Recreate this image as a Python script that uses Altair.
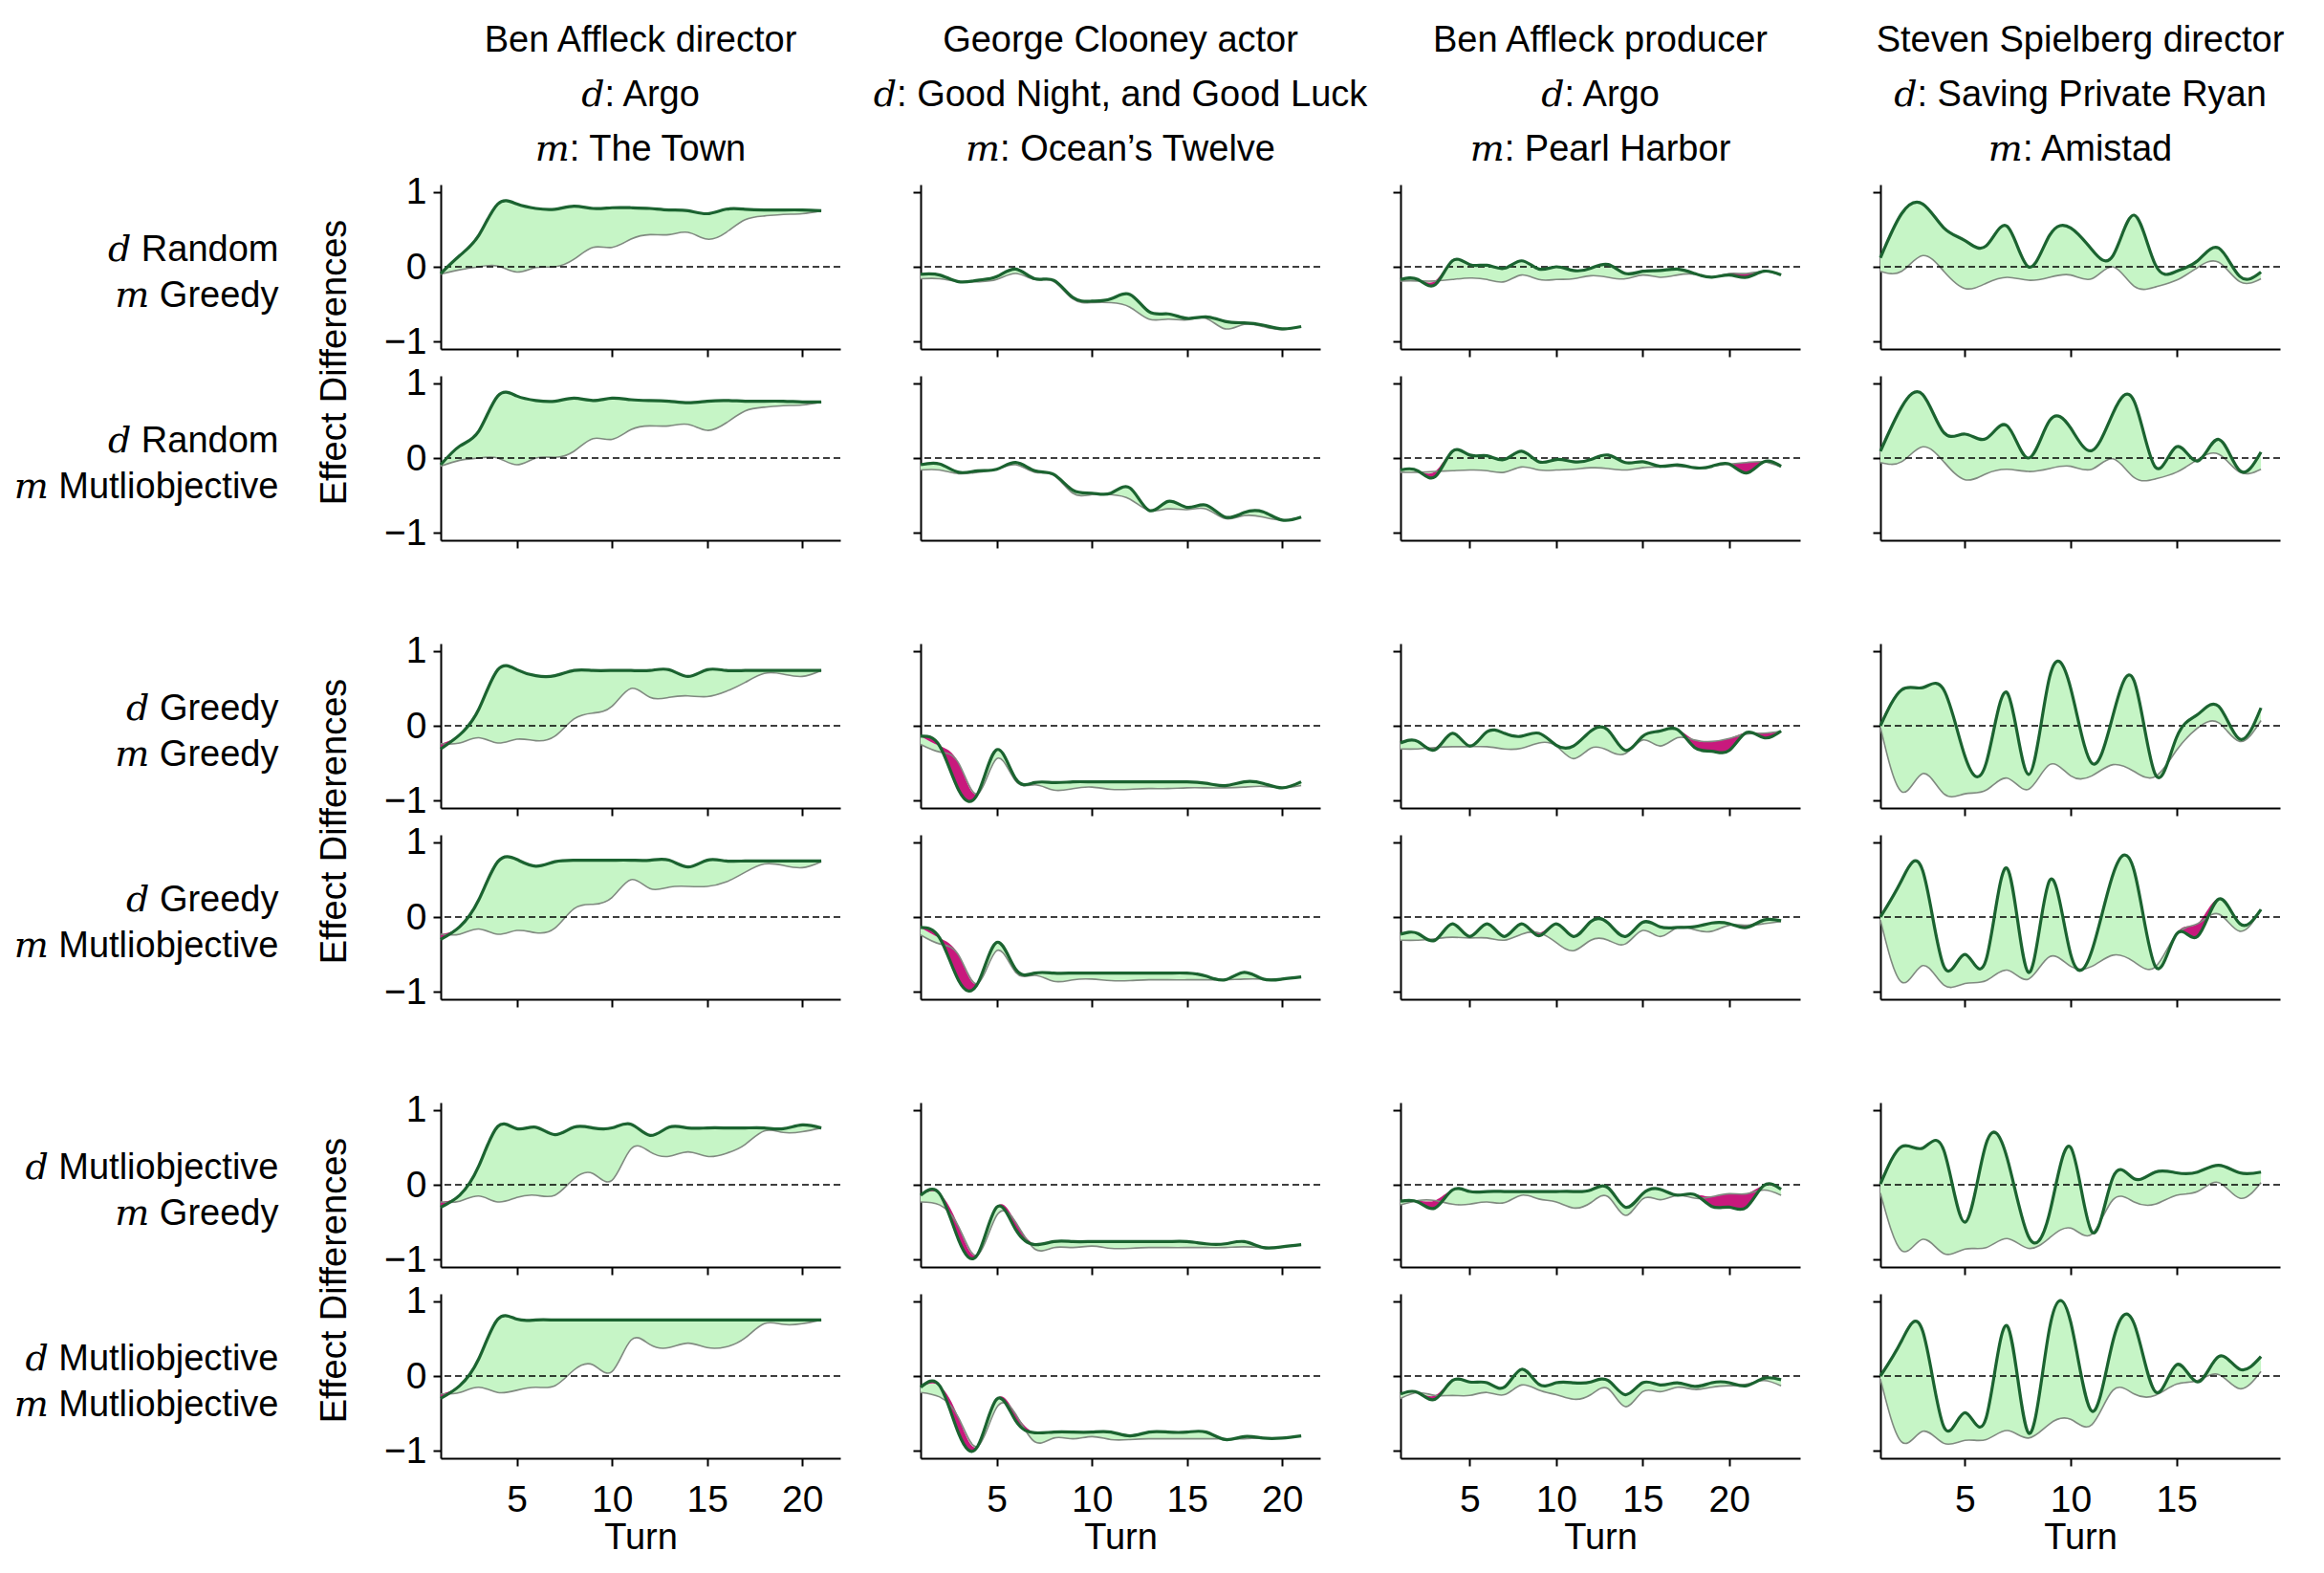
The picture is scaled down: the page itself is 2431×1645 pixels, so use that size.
import altair as alt
import pandas as pd

# ---------------- data ----------------
# dark line (thick) and light line (thin) per panel; rows 1..6, cols 1..4
d_r1c1 = [-0.09, 0.15, 0.42, 0.84, 0.84, 0.78, 0.77, 0.81, 0.78, 0.79, 0.79, 0.78, 0.76, 0.75, 0.71, 0.77, 0.77, 0.76, 0.76, 0.76, 0.75]
l_r1c1 = [-0.10, -0.04, 0.0, 0.01, -0.07, -0.01, 0.0, 0.10, 0.26, 0.26, 0.37, 0.43, 0.43, 0.46, 0.37, 0.46, 0.63, 0.68, 0.70, 0.71, 0.75]
d_r2c1 = [-0.09, 0.16, 0.36, 0.83, 0.83, 0.77, 0.76, 0.80, 0.77, 0.80, 0.78, 0.77, 0.76, 0.74, 0.76, 0.77, 0.76, 0.76, 0.76, 0.75, 0.75]
l_r2c1 = [-0.11, -0.03, 0.0, 0.0, -0.09, 0.0, 0.01, 0.09, 0.26, 0.25, 0.38, 0.43, 0.43, 0.45, 0.37, 0.47, 0.63, 0.68, 0.70, 0.71, 0.75]
d_r3c1 = [-0.31, -0.12, 0.22, 0.75, 0.75, 0.67, 0.67, 0.74, 0.74, 0.74, 0.74, 0.74, 0.75, 0.66, 0.75, 0.74, 0.74, 0.74, 0.74, 0.74, 0.74]
l_r3c1 = [-0.24, -0.23, -0.16, -0.23, -0.18, -0.20, -0.14, 0.09, 0.17, 0.26, 0.50, 0.38, 0.38, 0.40, 0.39, 0.46, 0.58, 0.70, 0.69, 0.66, 0.74]
d_r4c1 = [-0.30, -0.13, 0.23, 0.74, 0.77, 0.68, 0.74, 0.76, 0.76, 0.76, 0.76, 0.76, 0.76, 0.67, 0.76, 0.75, 0.75, 0.75, 0.75, 0.75, 0.75]
l_r4c1 = [-0.23, -0.23, -0.16, -0.23, -0.18, -0.21, -0.15, 0.11, 0.17, 0.26, 0.50, 0.38, 0.40, 0.41, 0.41, 0.47, 0.60, 0.71, 0.69, 0.66, 0.74]
d_r5c1 = [-0.30, -0.14, 0.25, 0.78, 0.75, 0.77, 0.67, 0.77, 0.76, 0.76, 0.81, 0.66, 0.77, 0.76, 0.76, 0.76, 0.76, 0.76, 0.75, 0.80, 0.76]
l_r5c1 = [-0.23, -0.22, -0.15, -0.23, -0.17, -0.14, -0.14, 0.08, 0.15, 0.06, 0.48, 0.44, 0.38, 0.44, 0.38, 0.42, 0.54, 0.72, 0.70, 0.71, 0.76]
d_r6c1 = [-0.30, -0.13, 0.23, 0.76, 0.76, 0.75, 0.75, 0.75, 0.75, 0.75, 0.75, 0.75, 0.75, 0.75, 0.75, 0.75, 0.75, 0.75, 0.75, 0.75, 0.75]
l_r6c1 = [-0.24, -0.22, -0.15, -0.22, -0.19, -0.15, -0.13, 0.08, 0.15, 0.06, 0.48, 0.42, 0.38, 0.44, 0.38, 0.39, 0.51, 0.70, 0.69, 0.70, 0.75]

d_r1c2 = [-0.10, -0.11, -0.20, -0.18, -0.13, -0.03, -0.16, -0.18, -0.41, -0.46, -0.43, -0.37, -0.60, -0.63, -0.69, -0.67, -0.73, -0.75, -0.78, -0.83, -0.80]
l_r1c2 = [-0.16, -0.16, -0.20, -0.20, -0.17, -0.09, -0.17, -0.20, -0.43, -0.48, -0.48, -0.54, -0.70, -0.70, -0.71, -0.69, -0.83, -0.77, -0.80, -0.84, -0.80]
d_r2c2 = [-0.09, -0.08, -0.19, -0.17, -0.15, -0.06, -0.17, -0.22, -0.43, -0.47, -0.47, -0.40, -0.70, -0.58, -0.66, -0.63, -0.79, -0.73, -0.72, -0.83, -0.79]
l_r2c2 = [-0.16, -0.16, -0.21, -0.19, -0.15, -0.09, -0.19, -0.23, -0.47, -0.49, -0.49, -0.55, -0.70, -0.68, -0.69, -0.68, -0.81, -0.77, -0.79, -0.83, -0.79]
d_r3c2 = [-0.14, -0.27, -0.86, -0.91, -0.32, -0.71, -0.76, -0.76, -0.75, -0.75, -0.75, -0.75, -0.75, -0.75, -0.75, -0.77, -0.80, -0.75, -0.77, -0.83, -0.75]
l_r3c2 = [-0.25, -0.35, -0.50, -0.91, -0.44, -0.74, -0.79, -0.86, -0.84, -0.82, -0.85, -0.85, -0.84, -0.84, -0.83, -0.83, -0.83, -0.82, -0.81, -0.83, -0.80]
d_r4c2 = [-0.14, -0.28, -0.85, -0.89, -0.34, -0.70, -0.75, -0.75, -0.75, -0.75, -0.75, -0.75, -0.75, -0.75, -0.75, -0.79, -0.84, -0.74, -0.83, -0.83, -0.80]
l_r4c2 = [-0.24, -0.36, -0.51, -0.89, -0.45, -0.74, -0.78, -0.86, -0.84, -0.83, -0.85, -0.85, -0.84, -0.84, -0.84, -0.84, -0.84, -0.83, -0.83, -0.83, -0.80]
d_r5c2 = [-0.14, -0.12, -0.74, -0.93, -0.30, -0.60, -0.80, -0.76, -0.76, -0.76, -0.76, -0.76, -0.76, -0.76, -0.76, -0.79, -0.79, -0.76, -0.84, -0.83, -0.80]
l_r5c2 = [-0.23, -0.27, -0.56, -0.94, -0.41, -0.50, -0.86, -0.84, -0.84, -0.82, -0.85, -0.85, -0.84, -0.84, -0.84, -0.84, -0.84, -0.83, -0.84, -0.83, -0.80]
d_r6c2 = [-0.15, -0.13, -0.77, -0.94, -0.31, -0.60, -0.76, -0.75, -0.75, -0.75, -0.75, -0.80, -0.75, -0.75, -0.75, -0.75, -0.85, -0.81, -0.83, -0.83, -0.80]
l_r6c2 = [-0.22, -0.28, -0.56, -0.94, -0.42, -0.51, -0.88, -0.83, -0.84, -0.81, -0.85, -0.85, -0.84, -0.84, -0.84, -0.84, -0.84, -0.84, -0.83, -0.83, -0.80]

d_r1c3 = [-0.17, -0.17, -0.24, 0.08, 0.03, 0.02, -0.02, 0.08, -0.03, 0.0, -0.05, -0.02, 0.03, -0.09, -0.06, -0.05, -0.03, -0.09, -0.14, -0.11, -0.14, -0.06, -0.11]
l_r1c3 = [-0.19, -0.19, -0.19, -0.17, -0.15, -0.17, -0.20, -0.11, -0.17, -0.17, -0.16, -0.12, -0.14, -0.16, -0.11, -0.14, -0.11, -0.10, -0.14, -0.09, -0.09, -0.06, -0.11]
d_r2c3 = [-0.16, -0.17, -0.25, 0.09, 0.04, 0.03, -0.02, 0.09, -0.05, -0.02, -0.05, -0.02, 0.04, -0.06, -0.05, -0.11, -0.09, -0.13, -0.11, -0.08, -0.20, -0.05, -0.11]
l_r2c3 = [-0.19, -0.19, -0.18, -0.17, -0.16, -0.17, -0.19, -0.12, -0.16, -0.16, -0.15, -0.13, -0.14, -0.16, -0.13, -0.12, -0.11, -0.13, -0.11, -0.08, -0.06, -0.05, -0.12]
d_r3c3 = [-0.23, -0.21, -0.32, -0.10, -0.27, -0.08, -0.10, -0.14, -0.10, -0.26, -0.27, -0.07, -0.06, -0.33, -0.14, -0.07, -0.05, -0.29, -0.34, -0.33, -0.09, -0.16, -0.07]
l_r3c3 = [-0.31, -0.31, -0.29, -0.28, -0.28, -0.28, -0.31, -0.30, -0.23, -0.27, -0.44, -0.30, -0.33, -0.37, -0.19, -0.27, -0.16, -0.19, -0.21, -0.17, -0.11, -0.10, -0.07]
d_r4c3 = [-0.23, -0.22, -0.31, -0.09, -0.26, -0.09, -0.26, -0.09, -0.25, -0.09, -0.26, -0.06, -0.08, -0.26, -0.07, -0.13, -0.14, -0.13, -0.08, -0.09, -0.14, -0.04, -0.05]
l_r4c3 = [-0.31, -0.31, -0.29, -0.27, -0.28, -0.28, -0.31, -0.23, -0.21, -0.34, -0.45, -0.31, -0.31, -0.36, -0.18, -0.26, -0.14, -0.17, -0.19, -0.11, -0.11, -0.09, -0.06]
d_r5c3 = [-0.22, -0.23, -0.31, -0.07, -0.09, -0.09, -0.09, -0.09, -0.09, -0.09, -0.09, -0.07, -0.04, -0.30, -0.12, -0.06, -0.14, -0.13, -0.29, -0.30, -0.30, -0.01, -0.06]
l_r5c3 = [-0.27, -0.21, -0.21, -0.26, -0.26, -0.23, -0.24, -0.14, -0.19, -0.23, -0.31, -0.24, -0.16, -0.41, -0.19, -0.20, -0.14, -0.18, -0.16, -0.12, -0.12, -0.07, -0.14]
d_r6c3 = [-0.24, -0.22, -0.31, -0.06, -0.08, -0.09, -0.15, 0.09, -0.11, -0.09, -0.09, -0.08, -0.06, -0.25, -0.09, -0.12, -0.09, -0.14, -0.09, -0.09, -0.13, -0.03, -0.05]
l_r6c3 = [-0.30, -0.22, -0.26, -0.26, -0.26, -0.22, -0.25, -0.12, -0.19, -0.25, -0.31, -0.25, -0.17, -0.41, -0.21, -0.21, -0.15, -0.18, -0.15, -0.13, -0.11, -0.06, -0.13]

d_r1c4 = [0.12, 0.71, 0.84, 0.52, 0.35, 0.28, 0.54, 0.0, 0.42, 0.52, 0.23, 0.15, 0.69, 0.03, -0.06, 0.08, 0.25, -0.13, -0.07]
l_r1c4 = [-0.06, -0.06, 0.15, -0.06, -0.29, -0.22, -0.14, -0.18, -0.14, -0.11, -0.16, 0.0, -0.26, -0.27, -0.18, -0.01, 0.06, -0.20, -0.16]
d_r2c4 = [0.09, 0.68, 0.85, 0.34, 0.32, 0.26, 0.43, 0.0, 0.50, 0.40, 0.10, 0.60, 0.76, -0.12, 0.15, -0.04, 0.25, -0.17, 0.08]
l_r2c4 = [-0.06, -0.05, 0.15, -0.05, -0.29, -0.21, -0.15, -0.18, -0.14, -0.11, -0.15, -0.01, -0.26, -0.28, -0.19, -0.02, 0.05, -0.19, -0.15]
d_r3c4 = [0.0, 0.48, 0.51, 0.48, -0.41, -0.50, 0.44, -0.65, 0.65, 0.50, -0.50, 0.14, 0.60, -0.65, -0.16, 0.15, 0.26, -0.18, 0.24]
l_r3c4 = [-0.02, -0.88, -0.64, -0.91, -0.91, -0.86, -0.70, -0.85, -0.52, -0.67, -0.67, -0.52, -0.61, -0.68, -0.33, -0.03, 0.04, -0.21, 0.07]
d_r4c4 = [0.0, 0.49, 0.62, -0.66, -0.50, -0.57, 0.65, -0.74, 0.49, -0.50, -0.45, 0.57, 0.62, -0.66, -0.23, -0.26, 0.24, -0.09, 0.10]
l_r4c4 = [-0.04, -0.87, -0.65, -0.91, -0.89, -0.85, -0.71, -0.83, -0.53, -0.66, -0.66, -0.51, -0.60, -0.67, -0.23, -0.09, 0.04, -0.19, 0.10]
d_r5c4 = [0.01, 0.51, 0.49, 0.46, -0.50, 0.55, 0.35, -0.69, -0.38, 0.50, -0.63, 0.10, 0.08, 0.17, 0.16, 0.17, 0.26, 0.16, 0.17]
l_r5c4 = [-0.11, -0.88, -0.73, -0.92, -0.86, -0.84, -0.72, -0.85, -0.71, -0.58, -0.66, -0.20, -0.23, -0.26, -0.14, -0.09, 0.03, -0.18, 0.03]
d_r6c4 = [0.0, 0.47, 0.60, -0.68, -0.49, -0.56, 0.67, -0.76, 0.64, 0.72, -0.47, 0.47, 0.70, -0.21, 0.15, -0.08, 0.26, 0.09, 0.26]
l_r6c4 = [-0.04, -0.88, -0.74, -0.90, -0.86, -0.85, -0.73, -0.83, -0.64, -0.58, -0.65, -0.19, -0.24, -0.26, -0.11, -0.06, 0.02, -0.17, 0.06]

col_titles = [
    ["Ben Affleck director", "𝑑: Argo", "𝑚: The Town"],
    ["George Clooney actor", "𝑑: Good Night, and Good Luck", "𝑚: Ocean’s Twelve"],
    ["Ben Affleck producer", "𝑑: Argo", "𝑚: Pearl Harbor"],
    ["Steven Spielberg director", "𝑑: Saving Private Ryan", "𝑚: Amistad"],
]
row_labels = [
    ["𝑑 Random", "𝑚 Greedy"],
    ["𝑑 Random", "𝑚 Mutliobjective"],
    ["𝑑 Greedy", "𝑚 Greedy"],
    ["𝑑 Greedy", "𝑚 Mutliobjective"],
    ["𝑑 Mutliobjective", "𝑚 Greedy"],
    ["𝑑 Mutliobjective", "𝑚 Mutliobjective"],
]
x_max = [22, 22, 24.1, 19.9]
x_ticks = [[5, 10, 15, 20], [5, 10, 15, 20], [5, 10, 15, 20], [5, 10, 15]]
y_ticks = [-1, 0, 1]

DARK = [[d_r1c1, d_r1c2, d_r1c3, d_r1c4], [d_r2c1, d_r2c2, d_r2c3, d_r2c4],
        [d_r3c1, d_r3c2, d_r3c3, d_r3c4], [d_r4c1, d_r4c2, d_r4c3, d_r4c4],
        [d_r5c1, d_r5c2, d_r5c3, d_r5c4], [d_r6c1, d_r6c2, d_r6c3, d_r6c4]]
LIGHT = [[l_r1c1, l_r1c2, l_r1c3, l_r1c4], [l_r2c1, l_r2c2, l_r2c3, l_r2c4],
         [l_r3c1, l_r3c2, l_r3c3, l_r3c4], [l_r4c1, l_r4c2, l_r4c3, l_r4c4],
         [l_r5c1, l_r5c2, l_r5c3, l_r5c4], [l_r6c1, l_r6c2, l_r6c3, l_r6c4]]

# ---------------- style ----------------
FONT = "Liberation Sans, DejaVu Serif"
C_DARK = "#1b6330"
C_LIGHT = "#808a80"
C_FILL = "#c6f5c6"
C_MAG = "#c8197d"
W, H = 418, 172
TXT = 38


def panel(r, c):
    dark, light = DARK[r][c], LIGHT[r][c]
    df = pd.DataFrame({"turn": list(range(1, len(dark) + 1)), "dark": dark, "light": light})
    bottom = r == 5
    xaxis = alt.Axis(values=x_ticks[c], labels=bottom, title="Turn" if bottom else "",
                     titleFontSize=TXT, titlePadding=1, labelPadding=16)
    if c == 0:
        yaxis = alt.Axis(values=y_ticks, labels=True, title=row_labels[r], titleAngle=0,
                         titleAlign="right", titleBaseline="middle", titleX=-170, titleY=68,
                         titleFontSize=TXT, titleLineHeight=48, labelPadding=7)
    else:
        yaxis = alt.Axis(values=y_ticks, labels=False, title="")
    xs = alt.Scale(domain=[1, x_max[c]], nice=False, zero=False)
    ys = alt.Scale(domain=[-1.1, 1.1], nice=False)
    X = alt.X("turn:Q", scale=xs, axis=xaxis)

    base = alt.Chart(df).transform_calculate(mx="max(datum.dark, datum.light)")
    green = base.mark_area(color=C_FILL, interpolate="natural").encode(
        x=X, y=alt.Y("light:Q", scale=ys, axis=yaxis), y2="mx:Q")
    mag = base.mark_area(color=C_MAG, interpolate="natural").encode(
        x=X, y=alt.Y("dark:Q", scale=ys, axis=yaxis), y2="mx:Q")
    lline = base.mark_line(color=C_LIGHT, strokeWidth=1.6, interpolate="natural").encode(
        x=X, y=alt.Y("light:Q", scale=ys, axis=yaxis))
    zero = alt.Chart(alt.Data(values=[{"z": 0}])).mark_rule(
        color="black", strokeDash=[7, 4], strokeWidth=1.5).encode(
        y=alt.Y("z:Q", scale=ys, axis=yaxis))
    dline = base.mark_line(color=C_DARK, strokeWidth=3.2, interpolate="natural").encode(
        x=X, y=alt.Y("dark:Q", scale=ys, axis=yaxis))
    layers = [green, mag, lline, zero, dline]
    if c == 0 and r % 2 == 0:
        eff = alt.Chart(alt.Data(values=[{"t": "Effect Differences"}])).mark_text(
            angle=270, fontSize=TXT, font=FONT, align="center", baseline="middle", color="black"
        ).encode(text="t:N", x=alt.value(-110), y=alt.value(H + 14))
        layers.append(eff)
    if r == 0:
        ttl = alt.Chart(alt.Data(values=[{}])).mark_text(
            text=col_titles[c], fontSize=TXT, font=FONT, align="center", baseline="top",
            lineHeight=57, color="black"
        ).encode(x=alt.value(W / 2), y=alt.value(-169))
        layers.append(ttl)
    return alt.layer(*layers).properties(width=W, height=H)


def spacer():
    return alt.Chart(alt.Data(values=[{}])).mark_point(opacity=0).encode(
        x=alt.value(0), y=alt.value(0)).properties(width=W, height=52)


views = []
for r in range(6):
    if r in (2, 4):
        views += [spacer() for _ in range(4)]
    views += [panel(r, c) for c in range(4)]

chart = alt.concat(
    *views, columns=4, spacing={"row": 28, "column": 84}, bounds="flush"
).configure(
    font=FONT, padding={"left": 5, "top": 15, "right": 5, "bottom": 5}
).configure_view(
    stroke="transparent"
).configure_axis(
    grid=False, domainColor="black", domainWidth=2, tickColor="black", tickWidth=2, tickSize=8,
    labelFont=FONT, labelFontSize=39, labelColor="black", titleFont=FONT, titleColor="black",
    titleFontWeight="normal"
)

chart.save("out.html", embed_options={"renderer": "svg", "actions": False})
